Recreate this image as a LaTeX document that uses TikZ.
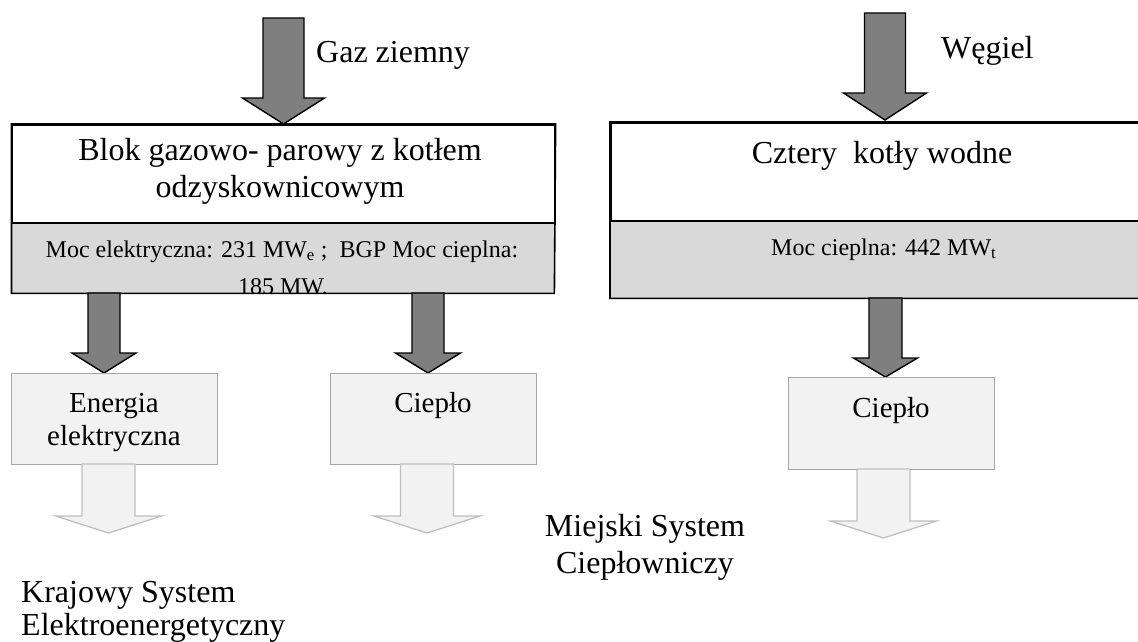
\documentclass[tikz,border=0pt]{standalone}
\usepackage{fontspec}
\setmainfont{Liberation Serif}
\definecolor{arrowgray}{HTML}{7F7F7F}
\definecolor{boxgray}{HTML}{D9D9D9}
\definecolor{lightfill}{HTML}{F2F2F2}
\definecolor{lightborder}{HTML}{A6A6A6}
\definecolor{lightarrowborder}{HTML}{BFBFBF}
\newcommand{\blkarrow}[7]{%
  \path[#1] ({#2-#6},#3) -- ({#2+#6},#3) -- ({#2+#6},#4) -- ({#2+#7},#4) -- (#2,#5)
    -- ({#2-#7},#4) -- ({#2-#6},#4) -- cycle;}
\tikzset{
  whitebox/.style={draw=black, fill=white, line width=1.6pt, inner sep=0pt, anchor=north west},
  graybox/.style={fill=boxgray, inner sep=0pt, anchor=north west},
  lightbox/.style={draw=lightborder, fill=lightfill, line width=1.3pt, inner sep=0pt, anchor=north west},
  darkarrow/.style={draw=black, fill=arrowgray, line width=1.4pt, line join=miter},
  lightarrow/.style={draw=lightarrowborder, fill=lightfill, line width=1.3pt, line join=miter},
  bigtext/.style={font=\fontsize{32}{37}\selectfont, inner sep=0pt},
  midtext/.style={font=\fontsize{29}{33}\selectfont, inner sep=0pt},
  smalltext/.style={font=\fontsize{24}{28}\selectfont, inner sep=0pt}
}
\begin{document}
\begin{tikzpicture}[x=1pt, y=-1pt]
\useasboundingbox (0,0) rectangle (1138,641);
\fill[white] (0,0) rectangle (1138,641);
\clip (0,0) rectangle (1138,641);

% ---------------- left block ----------------
\node[whitebox, minimum width=542.5pt, minimum height=99pt] (b1) at (11.5,124) {};
\node[graybox, minimum width=542.5pt, minimum height=70pt] (b1g) at (11.5,223) {};
\node[bigtext, anchor=base] (b1t1) at (280,160) {Blok gazowo- parowy z kotłem};
\node[bigtext, anchor=base] (b1t2) at (280,197) {odzyskownicowym};
\node[smalltext, anchor=base] (b1g1) at (282,257) {Moc elektryczna: 231 MW\textsubscript{e} ;\ \ BGP Moc cieplna:};
\begin{scope}
  \clip (b1g.north west) rectangle (b1g.south east);
  \node[smalltext, anchor=base] (b1g2) at (283,294) {185 MW.};
\end{scope}
\draw[line width=1.6pt] (b1.north west) -- (b1g.south west) -- (b1g.south east) -- (b1.north east) -- cycle;
\draw[line width=1.6pt] (b1g.north west) -- (b1g.north east);

% gas arrow
\blkarrow{darkarrow}{283.5}{18}{98}{124}{20.5}{41}
\node[bigtext, anchor=base west] (gaz) at (316,62) {Gaz ziemny};

% output arrows
\blkarrow{darkarrow}{104}{293}{353}{373}{16}{32}
\blkarrow{darkarrow}{428}{293}{353}{373}{16}{32.5}

\node[lightbox, minimum width=206pt, minimum height=91pt] (ee) at (11,373) {};
\node[midtext, anchor=base] (ee1) at (114,412) {Energia};
\node[midtext, anchor=base] (ee2) at (114,445) {elektryczna};
\node[lightbox, minimum width=206pt, minimum height=91pt] (c1) at (330,373) {};
\node[midtext, anchor=base] (c1t) at (433,412) {Ciepło};

\blkarrow{lightarrow}{108.5}{464}{516}{533}{26.5}{53}
\blkarrow{lightarrow}{427}{464}{516}{533}{26.5}{53}

\node[bigtext, anchor=base west] (ks1) at (21,602) {Krajowy System};
\node[bigtext, anchor=base west] (ks2) at (21,635) {Elektroenergetyczny};
\node[bigtext, anchor=base] (ms1) at (645,536) {Miejski System};
\node[bigtext, anchor=base] (ms2) at (645,573) {Ciepłowniczy};

% ---------------- right block ----------------
\node[whitebox, minimum width=540pt, minimum height=99pt] (b2) at (610,122) {};
\node[graybox, minimum width=540pt, minimum height=77pt] (b2g) at (610,221) {};
\draw[line width=1.6pt] (b2.north west) -- (b2g.south west) -- (b2g.south east) -- (b2.north east) -- cycle;
\draw[line width=1.6pt] (b2g.north west) -- (b2g.north east);
\node[bigtext, anchor=base] (b2t) at (882,163) {Cztery\ \ kotły wodne};
\node[smalltext, anchor=base west] (b2g1) at (771,255) {Moc cieplna: 442 MW\textsubscript{t}};

\blkarrow{darkarrow}{885}{13}{93}{120}{20.5}{41.5}
\node[bigtext, anchor=base west] (weg) at (941,58) {Węgiel};

\blkarrow{darkarrow}{885.5}{298}{358}{377}{16.5}{32}
\node[lightbox, minimum width=206pt, minimum height=92pt] (c2) at (788,377) {};
\node[midtext, anchor=base] (c2t) at (891,417) {Ciepło};
\blkarrow{lightarrow}{883.5}{469}{521}{538}{26.5}{53}
\end{tikzpicture}
\end{document}
